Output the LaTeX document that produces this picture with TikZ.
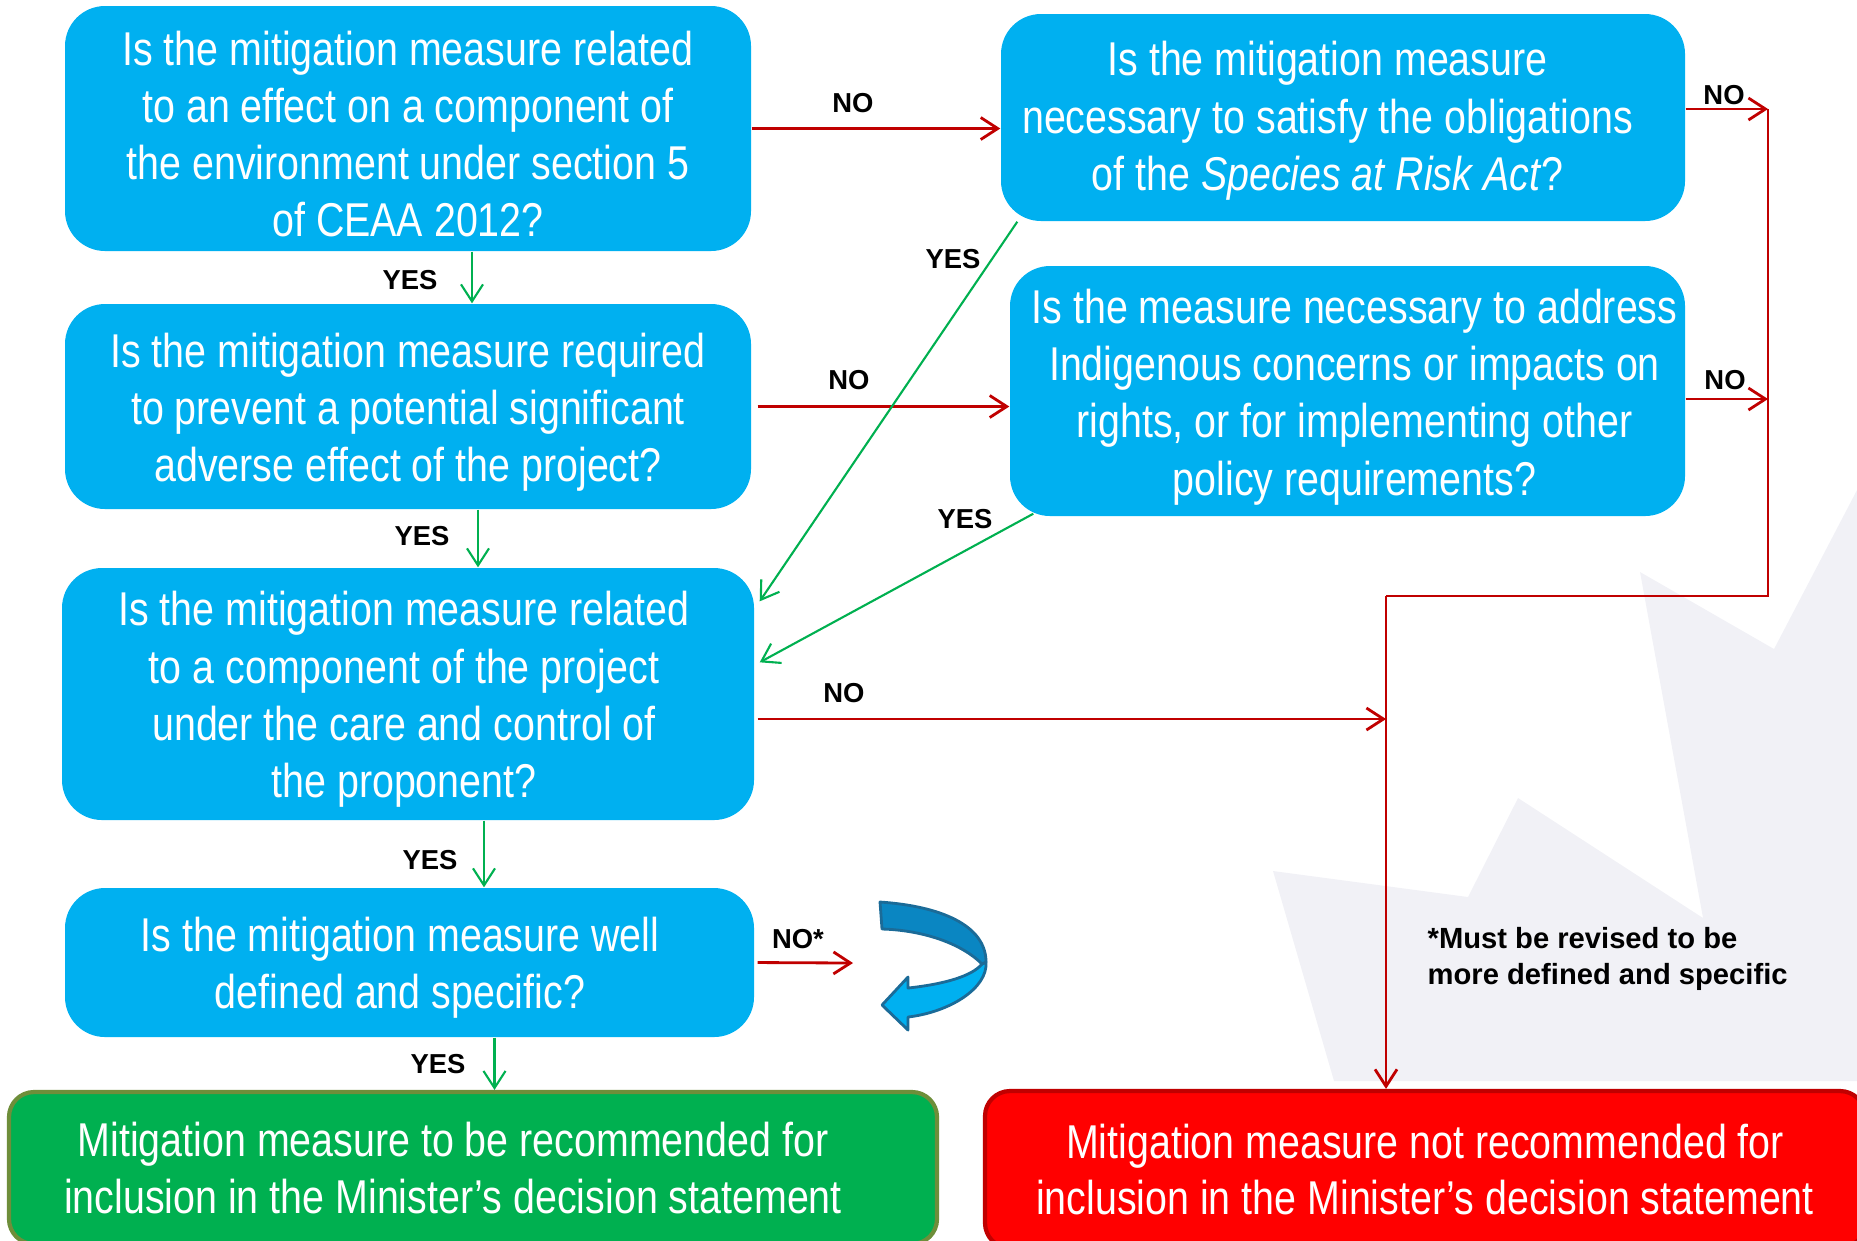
\documentclass[tikz,border=0pt]{standalone}
\usepackage{fontspec}
\setmainfont{Liberation Sans}
\newfontfamily\etroite{Liberation Sans}[FakeStretch=0.83]
\usetikzlibrary{arrows.meta}
\definecolor{bleu}{HTML}{00B0F0}
\definecolor{bleufonce}{HTML}{0A86C2}
\definecolor{bordbleu}{HTML}{1B6B98}
\definecolor{rouge}{HTML}{C00000}
\definecolor{rougevif}{HTML}{FF0000}
\definecolor{vert}{HTML}{00B050}
\definecolor{bordvert}{HTML}{6E8E3A}
\definecolor{filigrane}{RGB}{241,241,246}
\tikzset {taille/.style 2 args={minimum width=#1cm, minimum height=#2cm}}
\tikzset {question/.style={fill=bleu, rounded corners=4mm, inner sep=0pt},
  decision/.style={line width=1.2pt, rounded corners=2.5mm, inner sep=0pt},
  texte/.style={text=white, align=center, inner sep=0pt,
    font=\etroite\fontsize{13.5}{16.3}\selectfont},
  non/.style={draw=rouge, line width=0.8pt, -{Straight Barb[length=1.7mm,width=2.2mm]}},
  oui/.style={draw=vert, line width=0.6pt, -{Straight Barb[length=1.7mm,width=2.2mm]}},
  etiq/.style={font=\bfseries\fontsize{7.8}{9}\selectfont, inner sep=0pt}}

\begin{document}
\begin{tikzpicture}
  \useasboundingbox (0,0) rectangle (18.57,-12.40);
  % la feuille en fond
  \fill[filigrane] (12.73,-8.71) -- (14.68,-8.97) -- (15.18,-7.98) -- (17.03,-9.18)
    -- (16.40,-5.72) -- (17.74,-6.49) -- (18.57,-4.90) -- (18.57,-10.81)
    -- (13.34,-10.81) -- cycle;
  % les questions
  \node[question, taille={6.86}{2.45}] (q1) at (4.08,-1.285) {};
  \node[question, taille={6.84}{2.07}] (q2) at (13.43,-1.175) {};
  \node[question, taille={6.86}{2.05}] (q3) at (4.08,-4.065) {};
  \node[question, taille={6.75}{2.50}] (q4) at (13.475,-3.91) {};
  \node[question, taille={6.92}{2.52}] (q5) at (4.08,-6.94) {};
  \node[question, taille={6.89}{1.49}] (q6) at (4.095,-9.625) {};
  \node[texte] (t1) at ([yshift=-0.55mm]q1)
    {Is the mitigation measure related\\to an effect on a component of\\the environment under section 5\\of CEAA 2012?};
  \node[texte] (t2) at ([xshift=-1.55mm,yshift=-0.35mm]q2)
    {Is the mitigation measure\\necessary to satisfy the obligations\\of the \textit{Species at Risk Act}?};
  \node[texte] (t3) at ([yshift=-0.55mm]q3)
    {Is the mitigation measure required\\to prevent a potential significant\\adverse effect of the project?};
  \node[texte] (t4) at ([xshift=0.7mm,yshift=-0.6mm]q4)
    {Is the measure necessary to address\\Indigenous concerns or impacts on\\rights, or for implementing other\\policy requirements?};
  \node[texte] (t5) at ([xshift=-0.4mm,yshift=-0.55mm]q5)
    {Is the mitigation measure related\\to a component of the project\\under the care and control of\\the proponent?};
  \node[texte] (t6) at ([xshift=-0.95mm,yshift=-0.5mm]q6)
    {Is the mitigation measure well\\defined and specific?};
  % les deux issues
  \node[decision, fill=vert, draw=bordvert, taille={9.28}{1.52}] (ok) at (4.73,-11.68) {};
  \node[decision, fill=rougevif, draw=rouge, taille={8.80}{1.57}] (nok) at (14.25,-11.695) {};
  \node[texte, font=\etroite\fontsize{13.5}{16}\selectfont] (t7) at ([xshift=-2mm]ok)
    {Mitigation measure to be recommended for\\inclusion in the Minister’s decision statement};
  \node[texte, font=\etroite\fontsize{13.5}{16}\selectfont] (t8) at (nok)
    {Mitigation measure not recommended for\\inclusion in the Minister’s decision statement};
  % fleches NO
  \coordinate (rail) at (17.68,-5.96);
  \coordinate (coude) at (13.86,-5.96);
  \coordinate (fin) at (8.53,-9.63);
  \draw[non] (q1.east) -- (q1.east -| q2.west);
  \draw[non] ([yshift=0.85mm]q2.east) -- ([yshift=0.85mm]q2.east -| rail);
  \draw[non, -] ([yshift=0.85mm]q2.east -| rail) -- (rail) -- (coude);
  \draw[non] (coude) -- (coude |- nok.north);
  \draw[non] ([yshift=-0.8mm]q4.east) -- ([yshift=-0.8mm]q4.east -| rail);
  \draw[non, shorten <=0.6mm] (q3.east) -- (q3.east -| q4.west);
  \draw[non, shorten <=0.3mm] ([yshift=-2.5mm]q5.east) -- ([yshift=-2.5mm]q5.east -| coude);
  \draw[non, shorten <=0.3mm] (q6.east) -- (fin);
  % fleches YES
  \draw[oui] ([xshift=6.4mm]q1.south) -- ([xshift=6.4mm]q1.south |- q3.north);
  \draw[oui] ([xshift=7mm]q3.south) -- ([xshift=7mm]q3.south |- q5.north);
  \draw[oui] ([xshift=7.6mm]q5.south) -- ([xshift=7.6mm]q5.south |- q6.north);
  \draw[oui] ([xshift=8.5mm]q6.south) -- ([xshift=8.5mm]q6.south |- ok.north);
  \draw[oui] ([xshift=1.7mm]q2.south west) -- ([xshift=0.5mm,yshift=-3.4mm]q5.north east);
  \draw[oui] ([xshift=2.4mm,yshift=0.3mm]q4.south west) -- ([xshift=0.5mm,yshift=-9.5mm]q5.north east);
  % etiquettes
  \node[etiq] (n1) at (8.53,-1.03) {NO};
  \node[etiq] (n2) at (17.24,-0.95) {NO};
  \node[etiq] (n3) at (17.25,-3.80) {NO};
  \node[etiq] (n4) at (8.49,-3.80) {NO};
  \node[etiq] (n5) at (8.44,-6.93) {NO};
  \node[etiq] (n6) at (7.98,-9.39) {NO*};
  \node[etiq] (y1) at (4.10,-2.80) {YES};
  \node[etiq] (y2) at (4.22,-5.36) {YES};
  \node[etiq] (y3) at (4.30,-8.60) {YES};
  \node[etiq] (y4) at (4.38,-10.64) {YES};
  \node[etiq] (y5) at (9.53,-2.59) {YES};
  \node[etiq] (y6) at (9.65,-5.19) {YES};
  \node[etiq, font=\bfseries\fontsize{8.3}{10.1}\selectfont, align=left, anchor=north west]
    (nb) at (14.27,-9.27) {*Must be revised to be\\more defined and specific};
  % la fleche courbe
  \begin{scope}[draw=bordbleu, line width=0.8pt, line join=round]
    \filldraw[fill=bleu] (9.82,-9.64) -- (9.86,-9.62)
      .. controls (9.88,-9.88) and (9.50,-10.12) .. (9.08,-10.17)
      -- (9.08,-10.30) -- (8.82,-10.05) -- (9.08,-9.77) -- (9.08,-9.88)
      .. controls (9.45,-9.84) and (9.72,-9.76) .. (9.82,-9.64) -- cycle;
    \filldraw[fill=bleufonce] (8.80,-9.02)
      .. controls (9.40,-9.06) and (9.86,-9.25) .. (9.86,-9.62) -- (9.82,-9.64)
      .. controls (9.60,-9.42) and (9.20,-9.30) .. (8.82,-9.29) -- cycle;
  \end{scope}
\end{tikzpicture}
\end{document}
